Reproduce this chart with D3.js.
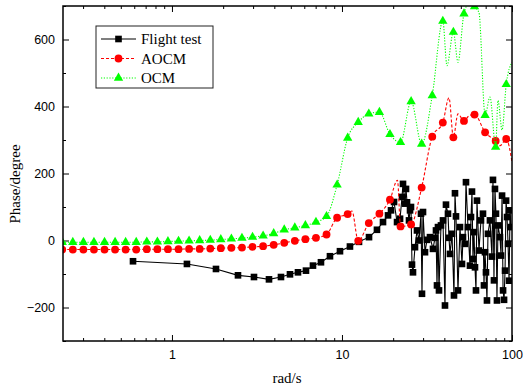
<!doctype html>
<html lang="en">
<head>
    <meta charset="UTF-8">
    <title>Phase</title>
    <style>
        body { margin: 0; background: #fff; }
        svg { display: block; }
        .tick text { font-family: Arial, "Liberation Sans", sans-serif; font-size: 12.5px; fill: #000; }
        .serif { font-family: "Times New Roman", "Liberation Serif", serif; font-size: 15px; }
    </style>
</head>
<body>
    <svg width="523" height="392"></svg>
    <script src="https://cdn.jsdelivr.net/npm/d3@7/dist/d3.min.js"></script>
    <script>
        // marker frequencies shared by the two model curves (rad/s)
        const modelFreq = [0.2263, 0.2611, 0.3013, 0.3476, 0.4011, 0.4628, 0.5339, 0.6162, 0.7112, 0.8209,
            0.9471, 1.093, 1.261, 1.455, 1.680, 1.938, 2.236, 2.580, 2.978, 3.436,
            3.965, 4.575, 5.280, 6.092, 7.030, 8.111, 9.361, 10.80, 12.46, 14.38,
            16.60, 19.15, 22.10, 25.50, 29.42, 33.96, 39.18, 45.20, 52.17, 60.20,
            69.47, 80.14, 92.50];
        const ocmPhase = [-5, -5, -5, -5, -5, -5, -5, -5, -4, -4,
            -3, -2, -1, 0, 1, 3, 5, 7, 10, 14,
            21, 32, 38, 45, 55, 72, 166, 306, 353, 378,
            383, 317, 293, 415, 288, 433, 655, 622, 677, 698,
            374, 279, 466];
        const aocmPhase = [-27, -27, -27, -27, -27, -27, -27, -27, -26, -26,
            -26, -26, -25, -25, -24, -23, -22, -21, -19, -17,
            -13, -7, -1, 4, 8, 18, 68, 79, -1, 52,
            80, 122, 42, 48, 158, 310, 352, 308, 357, 376,
            323, 297, 303];

        // extra turning points of the curves between markers
        const ocmBendFreq = [41.46, 48.12, 56.61, 63.94, 74.20, 82.69, 87.4, 100];
        const ocmBendPhase = [522, 532, 712, 680, 428, 418, 330, 532];
        const aocmBendFreq = [11.45, 21.21, 42.6, 48.1, 55.8, 84.96, 100];
        const aocmBendPhase = [88, 180, 426, 378, 372, 283, 234];

        const testFreq = [0.590, 1.225, 1.815, 2.445, 3.037, 3.721, 4.377, 4.945, 5.511, 6.141,
            6.751, 7.523, 8.499, 9.732, 11.14, 12.59, 14.42, 16.06, 17.43, 18.66,
            19.43, 20.24, 21.08, 21.95, 22.55, 22.85, 23.48, 23.80, 24.13, 24.79,
            25.13, 25.46, 25.81, 26.16, 26.88, 27.62, 28.38, 29.16, 29.55, 29.96,
            30.78, 31.63, 32.94, 34.30, 35.24, 35.72, 36.21, 36.70, 37.20, 38.22,
            39.27, 40.35, 40.90, 42.02, 42.60, 43.18, 44.37, 45.58, 46.20, 46.83,
            48.12, 49.44, 50.80, 51.49, 52.90, 53.62, 55.09, 56.61, 57.38, 58.16,
            58.95, 59.76, 60.57, 61.40, 62.23, 63.94, 65.69, 67.50, 68.42, 69.35,
            70.29, 71.25, 72.22, 74.20, 76.24, 77.28, 78.33, 79.40, 80.48, 81.58,
            82.69, 84.96, 86.2, 87.4, 88.6, 89.8, 91.0, 92.3, 93.5, 94.8,
            96.1, 97.4, 98.7];
        const testPhase = [-62, -70, -85, -104, -109, -116, -109, -101, -95, -90,
            -75, -65, -47, -32, -18, -4, 10, 32, 55, 75,
            90, 115, 55, 65, 130, 169, 110, 154, 114, 60,
            90, 100, -72, -95, -20, 30, 0, 80, -159, 85,
            -35, 2, 10, -25, 8, 30, -134, 40, -149, 45,
            60, -194, 107, 80, 8, -40, 20, -164, 141, 72,
            -149, 40, -70, 10, -10, 174, 40, -75, 70, 146,
            -55, 25, -80, -149, 119, -30, 60, 80, -134, -35,
            -95, -179, 20, 60, -48, 181, -119, 154, 80, -179,
            45, 10, -45, 134, -149, -177, -90, 119, 70, -10,
            -120, 90, 40];

        const xTickValues = [1, 10, 100];
        const yTickValues = [-200, 0, 200, 400, 600];
        const legendLabels = ["Flight test", "AOCM", "OCM"];

        const svg = d3.select("svg"),
            margin = {top: 6, right: 11, bottom: 51, left: 63},
            width = +svg.attr("width") - margin.left - margin.right,
            height = +svg.attr("height") - margin.top - margin.bottom,
            g = svg.append("g").attr("transform", "translate(" + margin.left + "," + margin.top + ")");

        const x = d3.scaleLog().domain([0.2286, 100]).range([0, width]);
        const y = d3.scaleLinear().domain([-300, 700]).range([height, 0]);

        const xMinor = [];
        [0.1, 1, 10].forEach(function(d) {
            d3.range(2, 10).forEach(function(m) {
                const v = d * m;
                if (v > 0.2286 && v < 100) xMinor.push(v);
            });
        });
        const yMinor = d3.range(-300, 701, 100).filter(function(v) { return yTickValues.indexOf(v) < 0; });

        // ticks point inward on all four sides
        function addAxis(axis, tx, ty, labels) {
            const a = g.append("g").attr("transform", "translate(" + tx + "," + ty + ")").call(axis);
            a.select(".domain").remove();
            a.selectAll("line").attr("stroke", "#000").attr("stroke-width", 1);
            if (!labels) a.selectAll("text").remove();
            return a;
        }
        addAxis(d3.axisBottom(x).tickValues(xTickValues).tickFormat(d3.format("d")).tickSize(-6).tickPadding(9), 0, height, true);
        addAxis(d3.axisBottom(x).tickValues(xMinor).tickSize(-3), 0, height, false);
        addAxis(d3.axisTop(x).tickValues(xTickValues).tickSize(-6), 0, 0, false);
        addAxis(d3.axisTop(x).tickValues(xMinor).tickSize(-3), 0, 0, false);
        addAxis(d3.axisLeft(y).tickValues(yTickValues).tickFormat(d3.format("d")).tickSize(-6).tickPadding(8), 0, 0, true);
        addAxis(d3.axisLeft(y).tickValues(yMinor).tickSize(-3), 0, 0, false);
        addAxis(d3.axisRight(y).tickValues(yTickValues).tickSize(-6), width, 0, false);
        addAxis(d3.axisRight(y).tickValues(yMinor).tickSize(-3), width, 0, false);

        g.append("clipPath").attr("id", "plot-clip")
            .append("rect").attr("width", width).attr("height", height);

        const plot = g.append("g").attr("clip-path", "url(#plot-clip)");

        const line = d3.line()
            .x(function(d) { return x(d[0]); })
            .y(function(d) { return y(d[1]); });

        const testData = d3.zip(testFreq, testPhase);
        const ocmMarks = d3.zip(modelFreq, ocmPhase);
        const aocmMarks = d3.zip(modelFreq, aocmPhase);
        const ocmCurve = ocmMarks.concat(d3.zip(ocmBendFreq, ocmBendPhase)).sort(function(a, b) { return a[0] - b[0]; });
        const aocmCurve = aocmMarks.concat(d3.zip(aocmBendFreq, aocmBendPhase)).sort(function(a, b) { return a[0] - b[0]; });

        const series = [
            {name: legendLabels[0], color: "#000", dash: null, curve: d3.curveLinear, line: testData, marks: testData, symbol: d3.symbolSquare, size: 44},
            {name: legendLabels[1], color: "#ff0000", dash: "3,2", curve: d3.curveMonotoneX, line: aocmCurve, marks: aocmMarks, symbol: d3.symbolCircle, size: 48},
            {name: legendLabels[2], color: "#00ff00", dash: "1.2,1.6", curve: d3.curveMonotoneX, line: ocmCurve, marks: ocmMarks, symbol: d3.symbolTriangle, size: 38}
        ];

        series.forEach(function(s) {
            plot.append("path")
                .datum(s.line)
                .attr("fill", "none")
                .attr("stroke", s.color)
                .attr("stroke-width", 1.1)
                .attr("stroke-dasharray", s.dash)
                .attr("d", line.curve(s.curve));
            plot.append("g")
                .selectAll("path")
                .data(s.marks)
                .enter().append("path")
                .attr("transform", function(d) { return "translate(" + x(d[0]) + "," + y(d[1]) + ")"; })
                .attr("d", d3.symbol(s.symbol, s.size))
                .attr("fill", s.color);
        });

        // frame
        g.append("rect")
            .attr("width", width).attr("height", height)
            .attr("fill", "none").attr("stroke", "#000").attr("stroke-width", 1.5);

        // legend
        const legend = svg.append("g").attr("transform", "translate(96,26)");
        legend.append("rect")
            .attr("width", 117).attr("height", 62)
            .attr("fill", "#fff").attr("stroke", "#222").attr("stroke-width", 1);
        series.forEach(function(s, i) {
            const ly = 13 + i * 19.5;
            legend.append("line")
                .attr("x1", 5).attr("x2", 40).attr("y1", ly).attr("y2", ly)
                .attr("stroke", s.color).attr("stroke-width", 1.1)
                .attr("stroke-dasharray", s.dash);
            legend.append("path")
                .attr("transform", "translate(22.5," + ly + ")")
                .attr("d", d3.symbol(s.symbol, s.size))
                .attr("fill", s.color);
            legend.append("text")
                .attr("class", "serif")
                .attr("x", 45).attr("y", ly + 5)
                .text(s.name);
        });

        svg.append("text")
            .attr("class", "serif")
            .attr("text-anchor", "middle")
            .attr("x", 287).attr("y", 383)
            .text("rad/s");

        svg.append("text")
            .attr("class", "serif")
            .attr("text-anchor", "middle")
            .attr("transform", "translate(20,184) rotate(-90)")
            .text("Phase/degree");
    </script>
</body>
</html>
